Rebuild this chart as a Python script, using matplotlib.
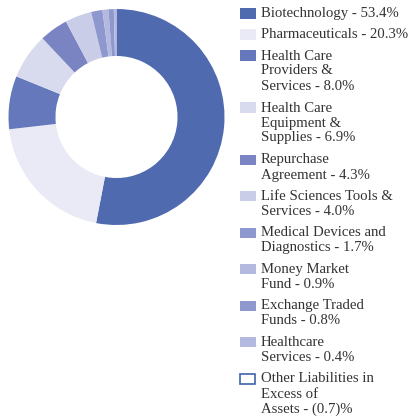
import matplotlib
matplotlib.use("Agg")
import matplotlib.pyplot as plt
from matplotlib.patches import Rectangle

# Данные секторов
labels = [
    "Biotechnology - 53.4%",
    "Pharmaceuticals - 20.3%",
    "Health Care\nProviders &\nServices - 8.0%",
    "Health Care\nEquipment &\nSupplies - 6.9%",
    "Repurchase\nAgreement - 4.3%",
    "Life Sciences Tools &\nServices - 4.0%",
    "Medical Devices and\nDiagnostics - 1.7%",
    "Money Market\nFund - 0.9%",
    "Exchange Traded\nFunds - 0.8%",
    "Healthcare\nServices - 0.4%",
    "Other Liabilities in\nExcess of\nAssets - (0.7)%",
]
values = [53.4, 20.3, 8.0, 6.9, 4.3, 4.0, 1.7, 0.9, 0.8, 0.4, -0.7]
colors = ["#506ab0", "#e9eaf5", "#6678bc", "#d8dbed", "#7b84c2", "#c9cde8",
          "#8e98cf", "#b4badf", "#8e98cf", "#b4badf", "white"]

W, H = 412, 416
fig = plt.figure(figsize=(W / 100, H / 100), dpi=100)

# Кольцевая диаграмма (отрицательные значения не рисуются)
ax = fig.add_axes([8.5 / W, 1 - 225 / H, 216 / W, 216 / H])
pos_vals = [v for v in values if v > 0]
pos_cols = [c for v, c in zip(values, colors) if v > 0]
ax.pie(pos_vals, colors=pos_cols, startangle=90, counterclock=False,
       radius=1, wedgeprops=dict(width=0.435, linewidth=0))
ax.set_xlim(-1, 1)
ax.set_ylim(-1, 1)
ax.set_aspect("equal")
ax.axis("off")

# Легенда вручную
line_h = 15.5
gap = 5.5
y = 13.5
for lab, c in zip(labels, colors):
    n = lab.count("\n") + 1
    if c == "white":
        sw = Rectangle((240 / W, 1 - (y + 5) / H), 15 / W, 10 / H,
                       transform=fig.transFigure, facecolor="white",
                       edgecolor="#3f63aa", linewidth=1.2)
    else:
        sw = Rectangle((240 / W, 1 - (y + 5) / H), 16 / W, 10 / H,
                       transform=fig.transFigure, facecolor=c, edgecolor="none")
    fig.patches.append(sw)
    fig.text(261 / W, 1 - (y - 6) / H, lab, ha="left", va="top",
             fontsize=10.6, family="Liberation Serif", color="#333333",
             linespacing=1.2)
    y += n * line_h + gap

fig.savefig("out.png", dpi=100)
